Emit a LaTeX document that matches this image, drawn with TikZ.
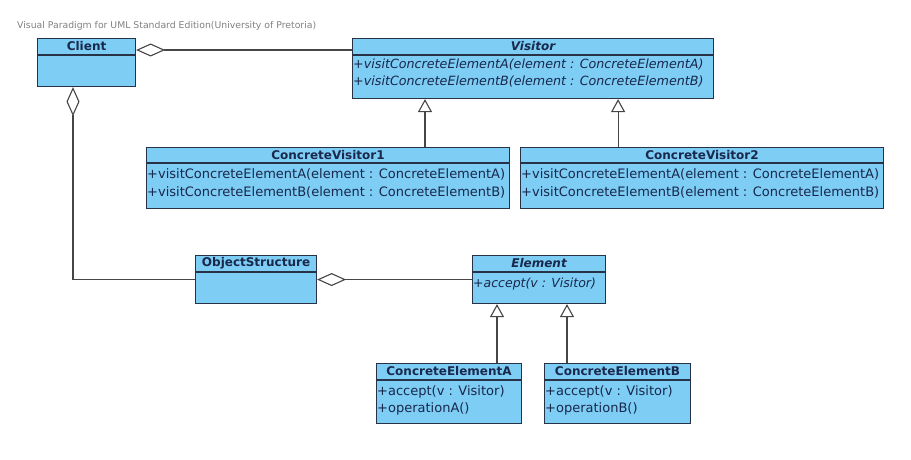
\documentclass[tikz,border=0pt]{standalone}
\usepackage{fontspec}
\setmainfont{DejaVu Sans}
\usetikzlibrary{arrows.meta}
\definecolor{clsfill}{RGB}{125,205,245}
\definecolor{clsdraw}{RGB}{40,50,70}
\definecolor{clstext}{RGB}{25,40,75}
\definecolor{linecol}{RGB}{70,70,70}
\tikzset{
  cls/.style={draw=clsdraw, fill=clsfill, line width=1.1pt, rectangle, inner sep=0pt, anchor=north west},
  hdr/.style={text=clstext, font=\bfseries\fontsize{12}{14}\selectfont, inner sep=0pt},
  mem/.style={text=clstext, font=\fontsize{13}{18}\selectfont, inner sep=1pt, align=left, anchor=north west},
  sep/.style={draw=clsdraw, line width=1.1pt},
  conn/.style={draw=linecol, line width=1.1pt},
  agg/.style={conn, {Diamond[open, length=29pt, width=13pt, fill=white]}-},
  gen/.style={conn, -{Triangle[open, length=13pt, width=14pt, fill=white]}}
}
\begin{document}
\begin{tikzpicture}[x=1pt, y=-1pt]
\useasboundingbox (0,0) rectangle (911,460);
\node[anchor=west, text=gray, font=\fontsize{9.3}{10}\selectfont, inner sep=0pt] (wm) at (17,26) {Visual Paradigm for UML Standard Edition(University of Pretoria)};

% Client
\node[cls, minimum width=98pt, minimum height=48pt] (client) at (37,38) {};
\draw[sep] ([yshift=-17pt]client.north west) -- ([yshift=-17pt]client.north east);
\node[hdr] (clientT) at ([yshift=-8.5pt]client.north) {Client};

% Visitor
\node[cls, minimum width=361pt, minimum height=60pt] (visitor) at (352,38) {};
\draw[sep] ([yshift=-17pt]visitor.north west) -- ([yshift=-17pt]visitor.north east);
\node[hdr] (visitorT) at ([yshift=-8.5pt]visitor.north) {\itshape Visitor};
\node[mem, font=\itshape\fontsize{12.7}{17}\selectfont] (visitorM) at ([yshift=-20pt]visitor.north west) {+visitConcreteElementA(element : ConcreteElementA)\\+visitConcreteElementB(element : ConcreteElementB)};

% ConcreteVisitor1
\node[cls, minimum width=363pt, minimum height=61pt] (cv1) at (146,147) {};
\draw[sep] ([yshift=-16pt]cv1.north west) -- ([yshift=-16pt]cv1.north east);
\node[hdr] (cv1T) at ([yshift=-8pt]cv1.north) {ConcreteVisitor1};
\node[mem] (cv1M) at ([yshift=-20pt]cv1.north west) {+visitConcreteElementA(element : ConcreteElementA)\\+visitConcreteElementB(element : ConcreteElementB)};

% ConcreteVisitor2
\node[cls, minimum width=363pt, minimum height=61pt] (cv2) at (520,147) {};
\draw[sep] ([yshift=-16pt]cv2.north west) -- ([yshift=-16pt]cv2.north east);
\node[hdr] (cv2T) at ([yshift=-8pt]cv2.north) {ConcreteVisitor2};
\node[mem] (cv2M) at ([yshift=-20pt]cv2.north west) {+visitConcreteElementA(element : ConcreteElementA)\\+visitConcreteElementB(element : ConcreteElementB)};

% ObjectStructure
\node[cls, minimum width=121pt, minimum height=48pt] (os) at (195,255) {};
\draw[sep] ([yshift=-17pt]os.north west) -- ([yshift=-17pt]os.north east);
\node[hdr] (osT) at ([yshift=-8.5pt]os.north) {ObjectStructure};

% Element
\node[cls, minimum width=133pt, minimum height=48pt] (el) at (472,255) {};
\draw[sep] ([yshift=-17pt]el.north west) -- ([yshift=-17pt]el.north east);
\node[hdr] (elT) at ([yshift=-8.5pt]el.north) {\itshape Element};
\node[mem, font=\itshape\fontsize{12.5}{16}\selectfont] (elM) at ([yshift=-22pt]el.north west) {+accept(v : Visitor)};

% ConcreteElementA
\node[cls, minimum width=145pt, minimum height=60pt] (cea) at (376,363) {};
\draw[sep] ([yshift=-17pt]cea.north west) -- ([yshift=-17pt]cea.north east);
\node[hdr] (ceaT) at ([yshift=-8.5pt]cea.north) {ConcreteElementA};
\node[mem, font=\fontsize{13}{17}\selectfont] (ceaM) at ([yshift=-21pt]cea.north west) {+accept(v : Visitor)\\+operationA()};

% ConcreteElementB
\node[cls, minimum width=146pt, minimum height=60pt] (ceb) at (544,363) {};
\draw[sep] ([yshift=-17pt]ceb.north west) -- ([yshift=-17pt]ceb.north east);
\node[hdr] (cebT) at ([yshift=-8.5pt]ceb.north) {ConcreteElementB};
\node[mem, font=\fontsize{13}{17}\selectfont] (cebM) at ([yshift=-21pt]ceb.north west) {+accept(v : Visitor)\\+operationB()};

% connectors
\coordinate (cA) at ([yshift=-12pt]client.north east);
\coordinate (vA) at ([yshift=-12pt]visitor.north west);
\draw[agg] (cA) -- (vA);
\coordinate (cB) at ([xshift=36pt]client.south west);
\draw[agg] (cB) |- (os.west);
\draw[agg] (os.east) -- (el.west);

\coordinate (v1) at ([xshift=73pt]visitor.south west);
\coordinate (v2) at ([xshift=-96pt]visitor.south east);
\draw[gen] (v1 |- cv1.north) -- (v1);
\draw[gen] (v2 |- cv2.north) -- (v2);
\coordinate (e1) at ([xshift=25pt]el.south west);
\coordinate (e2) at ([xshift=95pt]el.south west);
\draw[gen] (e1 |- cea.north) -- (e1);
\draw[gen] (e2 |- ceb.north) -- (e2);
\end{tikzpicture}
\end{document}
